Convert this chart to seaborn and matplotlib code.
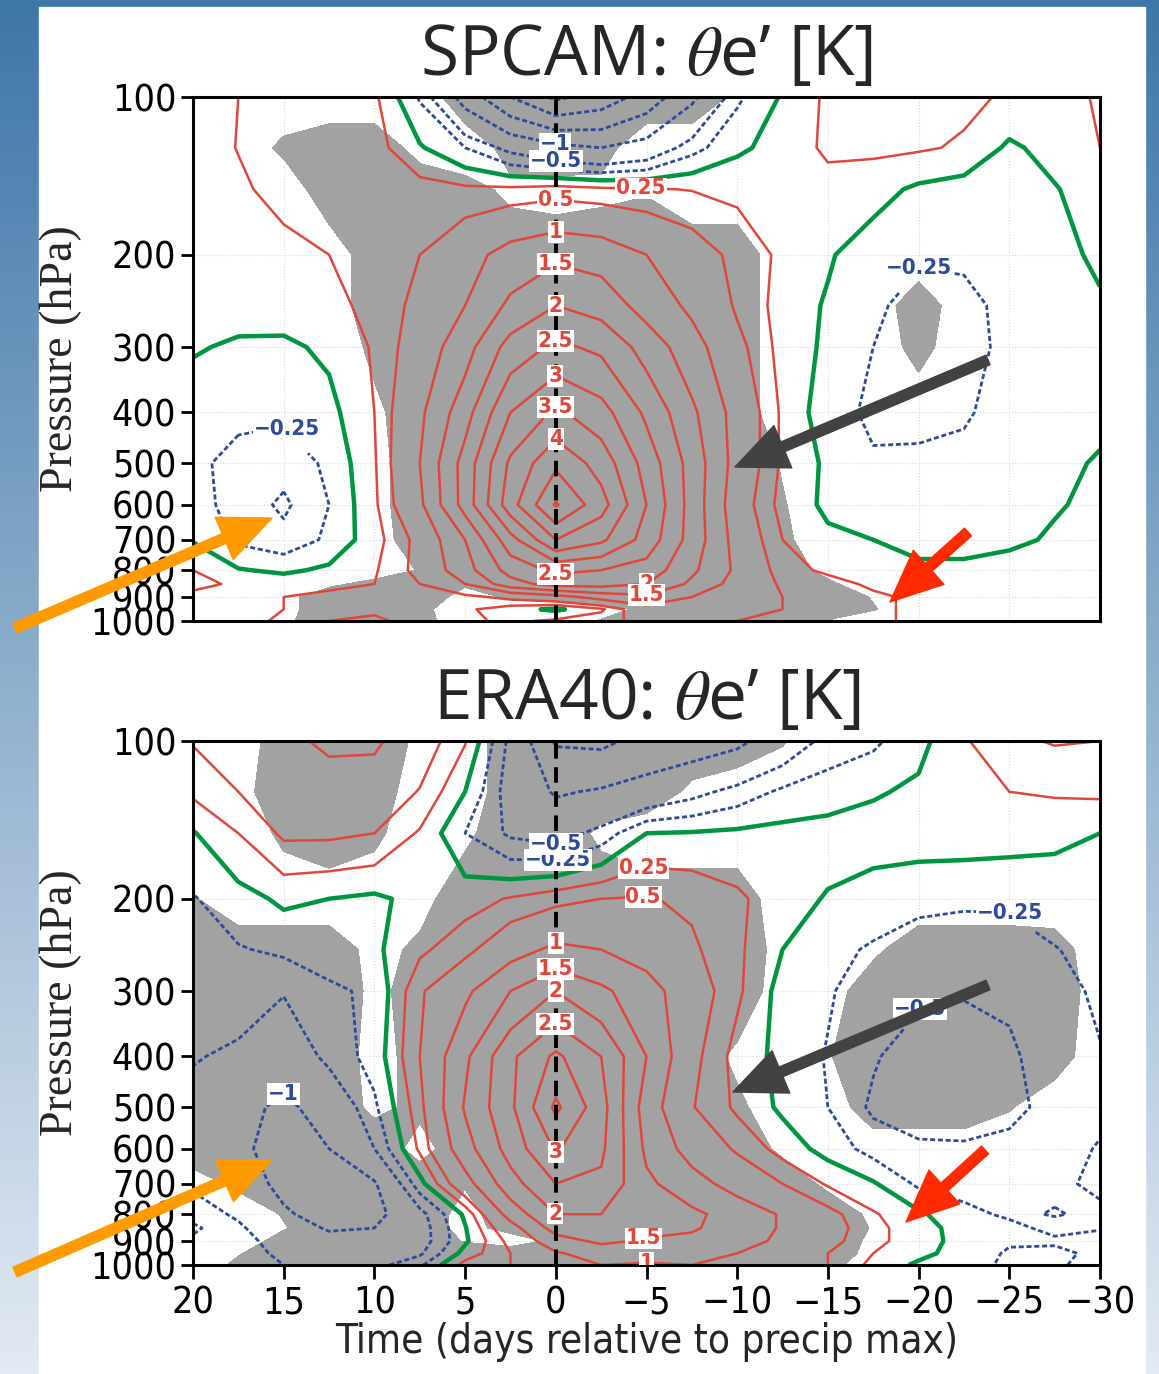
import numpy as np
import pandas as pd
import matplotlib
matplotlib.use("Agg")
import matplotlib.pyplot as plt
import seaborn as sns
from matplotlib.patches import Rectangle
from matplotlib.ticker import NullLocator
from matplotlib.font_manager import FontProperties

# ---------------- data ----------------
time_days = [20, 17.5, 15, 12.5, 10, 7.5, 5, 2.5, 0, -2.5, -5, -7.5, -10,
             -12.5, -15, -17.5, -20, -22.5, -25, -27.5, -30]
pressure_hpa = [100, 125, 150, 200, 250, 300, 400, 500, 600, 700, 800, 850, 900, 950, 1000]

# theta_e' anomaly [K], one row per pressure level, columns follow time_days
spcam_theta_e = [
    [0.15, 0.25, 0.35, 0.40, 0.30, -0.28, -1.20, -2.00, -2.60, -2.30, -1.80, -1.10, -0.30, 0.03, 0.30, 0.35, 0.35, 0.30, 0.22, 0.15, 0.28],
    [0.12, 0.26, 0.40, 0.42, 0.35, 0.03, -0.25, -0.60, -0.85, -1.00, -0.80, -0.35, -0.05, 0.10, 0.30, 0.30, 0.28, 0.22, -0.05, 0.10, 0.25],
    [0.10, 0.20, 0.35, 0.45, 0.45, 0.35, 0.30, 0.30, 0.35, 0.30, 0.27, 0.24, 0.20, 0.12, 0.15, 0.10, -0.05, -0.12, -0.10, -0.02, 0.15],
    [0.05, 0.10, 0.15, 0.25, 0.35, 0.50, 0.80, 1.20, 1.40, 1.30, 1.00, 0.70, 0.40, 0.20, 0.03, -0.15, -0.22, -0.22, -0.12, -0.05, 0.03],
    [0.05, 0.08, 0.12, 0.20, 0.30, 0.60, 1.00, 1.60, 2.00, 1.80, 1.30, 0.90, 0.45, 0.15, -0.03, -0.20, -0.35, -0.30, -0.20, -0.10, -0.02],
    [0.02, -0.03, -0.05, 0.05, 0.28, 0.70, 1.30, 2.20, 2.60, 2.40, 1.80, 1.20, 0.60, 0.15, -0.05, -0.25, -0.40, -0.32, -0.20, -0.10, -0.05],
    [-0.12, -0.20, -0.20, -0.08, 0.25, 0.90, 1.80, 3.00, 3.60, 3.20, 2.40, 1.60, 0.80, 0.20, -0.15, -0.30, -0.32, -0.28, -0.15, -0.08, -0.05],
    [-0.20, -0.32, -0.40, -0.20, 0.22, 1.00, 2.20, 3.60, 4.40, 3.80, 2.80, 1.80, 0.80, 0.20, -0.05, -0.22, -0.20, -0.18, -0.10, -0.05, 0.02],
    [-0.15, -0.35, -0.55, -0.25, 0.20, 0.90, 2.20, 3.80, 5.05, 4.20, 3.00, 1.80, 0.70, 0.15, -0.05, -0.10, -0.12, -0.12, -0.08, -0.02, 0.05],
    [-0.02, -0.30, -0.42, -0.20, 0.15, 0.60, 1.50, 2.80, 4.00, 3.60, 2.80, 1.80, 0.80, 0.25, 0.05, 0.00, -0.08, -0.08, -0.05, 0.03, 0.10],
    [0.25, 0.02, -0.05, 0.05, 0.22, 0.60, 1.30, 2.20, 2.60, 2.50, 2.30, 1.60, 0.90, 0.35, 0.20, 0.15, 0.05, 0.05, 0.10, 0.15, 0.20],
    [0.30, 0.22, 0.15, 0.18, 0.25, 0.50, 1.00, 1.80, 2.20, 2.20, 2.00, 1.40, 0.80, 0.45, 0.35, 0.20, 0.15, 0.12, 0.15, 0.18, 0.22],
    [0.20, 0.22, 0.25, 0.32, 0.40, 0.40, 0.40, 0.60, 0.80, 1.20, 1.40, 1.00, 0.70, 0.50, 0.40, 0.30, 0.20, 0.15, 0.20, 0.25, 0.20],
    [0.15, 0.20, 0.25, 0.40, 0.45, 0.40, 0.30, 0.10, -0.05, 0.20, 0.80, 0.80, 0.60, 0.50, 0.40, 0.30, 0.20, 0.15, 0.20, 0.20, 0.15],
    [0.10, 0.15, 0.30, 0.50, 0.55, 0.40, 0.30, 0.20, 0.30, 0.40, 0.60, 0.60, 0.50, 0.45, 0.40, 0.30, 0.20, 0.15, 0.15, 0.20, 0.15],
]
# significance (grey shading), 0 = not shaded ... 9 = shaded
spcam_signif = [
    "000000999999300000000",
    "006992079700000000000",
    "000999732340000000000",
    "000099999999900000000",
    "000099999999900090000",
    "000069999999900070000",
    "000039999999900000000",
    "000029999999940000000",
    "000029999999950000000",
    "000019999999960000000",
    "000005999999992000000",
    "000377599999996000000",
    "002997357999999400000",
    "002996100269999500000",
    "003996200599994000000",
]

era40_theta_e = [
    [0.52, 0.70, 0.90, 1.08, 1.08, 0.70, 0.27, -0.58, -1.55, -1.60, -1.35, -1.25, -1.10, -0.75, -0.40, -0.30, -0.08, 0.22, 0.45, 0.52, 0.50],
    [0.30, 0.50, 0.72, 0.80, 0.75, 0.48, 0.00, -0.65, -1.05, -0.95, -0.80, -0.60, -0.40, -0.20, -0.12, -0.03, 0.05, 0.15, 0.25, 0.28, 0.30],
    [-0.02, 0.25, 0.55, 0.55, 0.50, 0.22, -0.25, -0.55, -0.65, -0.40, 0.00, 0.02, 0.05, 0.08, 0.10, 0.12, 0.12, 0.12, 0.10, 0.06, 0.00],
    [-0.27, -0.10, 0.05, 0.00, -0.05, 0.08, 0.15, 0.27, 0.40, 0.50, 0.52, 0.45, 0.30, 0.10, -0.02, -0.12, -0.18, -0.20, -0.20, -0.15, -0.12],
    [-0.38, -0.27, -0.20, -0.12, -0.05, 0.20, 0.40, 0.80, 1.10, 1.00, 0.80, 0.55, 0.30, 0.00, -0.18, -0.28, -0.38, -0.42, -0.40, -0.26, -0.18],
    [-0.42, -0.38, -0.48, -0.30, -0.20, 0.45, 0.90, 1.50, 2.00, 1.60, 1.20, 0.70, 0.30, -0.10, -0.22, -0.40, -0.45, -0.47, -0.45, -0.35, -0.20],
    [-0.48, -0.55, -0.75, -0.42, -0.15, 0.50, 1.40, 2.40, 3.10, 2.50, 1.50, 0.60, 0.15, -0.08, -0.27, -0.47, -0.65, -0.70, -0.55, -0.35, -0.27],
    [-0.60, -0.85, -1.10, -0.80, -0.30, 0.40, 1.55, 2.40, 3.60, 2.70, 1.25, 0.52, 0.20, -0.05, -0.25, -0.55, -0.65, -0.70, -0.60, -0.38, -0.28],
    [-0.65, -0.95, -1.10, -1.00, -0.50, 0.30, 1.30, 2.20, 3.05, 2.60, 1.40, 0.80, 0.45, 0.15, -0.10, -0.35, -0.45, -0.45, -0.40, -0.30, -0.24],
    [-0.55, -0.80, -1.10, -1.15, -1.05, -0.10, 0.80, 1.80, 2.50, 2.40, 1.60, 1.20, 0.80, 0.50, 0.22, 0.03, -0.30, -0.32, -0.30, -0.28, -0.22],
    [-0.35, -0.55, -0.95, -1.15, -1.15, -0.60, 0.05, 1.20, 2.00, 2.00, 1.80, 1.60, 1.30, 0.95, 0.60, 0.28, 0.05, -0.20, -0.28, -0.24, -0.28],
    [-0.20, -0.45, -0.75, -1.05, -1.00, -0.65, -0.02, 0.80, 1.70, 1.90, 1.65, 1.55, 1.30, 0.95, 0.65, 0.32, 0.12, -0.12, -0.20, -0.30, -0.26],
    [-0.30, -0.42, -0.60, -0.85, -0.80, -0.65, -0.05, 0.60, 1.30, 1.60, 1.45, 1.40, 1.20, 0.90, 0.60, 0.32, 0.12, -0.10, -0.22, -0.22, -0.20],
    [-0.40, -0.40, -0.55, -0.65, -0.70, -0.55, 0.10, 0.50, 0.95, 1.20, 1.20, 1.20, 1.00, 0.75, 0.50, 0.25, 0.08, -0.12, -0.28, -0.30, -0.20],
    [-0.45, -0.42, -0.50, -0.60, -0.60, -0.30, 0.35, 0.50, 0.75, 1.00, 0.95, 1.00, 0.80, 0.60, 0.50, 0.18, -0.05, -0.15, -0.30, -0.27, -0.20],
]
era40_signif = [
    "009993099999950000000",
    "029990099993000000000",
    "006960399300000000000",
    "500002999999900000000",
    "999926999999920399980",
    "999937999999911999991",
    "999927999999304999980",
    "999936999999600999500",
    "999992999999930000000",
    "169999599999993000000",
    "005999299999999300000",
    "004999279999999400000",
    "017999416999999300000",
    "049999999999999200000",
    "069999999999997000000",
]

positive_levels = [0.25, 0.5, 1, 1.5, 2, 2.5, 3, 3.5, 4, 4.5, 5]
negative_levels = [-3, -2.5, -2, -1.5, -1, -0.5, -0.25]
x_ticks = [20, 15, 10, 5, 0, -5, -10, -15, -20, -25, -30]
y_ticks = [100, 200, 300, 400, 500, 600, 700, 800, 900, 1000]

# label anchor points (time, pressure) for the contour labels
spcam_pos_label_at = [(0, 159), (0, 181), (0, 207), (0, 247), (0, 293), (0, 342), (0, 387),
                      (0, 436), (-4.7, 146), (0, 809), (-5, 850), (-5, 890)]
spcam_neg_label_at = [(0, 121), (0, 132), (15, 436), (-19.5, 203)]
era40_pos_label_at = [(-4.7, 170), (-4.8, 193), (0, 234), (0, 265), (0, 299), (0, 348),
                      (0, 623), (0, 795), (-4.8, 872), (-5, 969)]
era40_neg_label_at = [(0, 163), (0, 172), (15, 469), (-20, 316), (-25, 214)]

# ---------------- style ----------------
sns.set_theme(style="white")
plt.rcParams['font.family'] = ['Liberation Sans Narrow', 'DejaVu Sans']
plt.rcParams['font.stretch'] = 'condensed'
plt.rcParams['mathtext.fontset'] = 'stix'
plt.rcParams['axes.unicode_minus'] = True

RED = '#e0473b'
GREEN = '#00963f'
BLUE = '#2d4b9b'
GREY = '#a2a2a2'

W, H = 1159, 1374
fig = plt.figure(figsize=(W / 100, H / 100), dpi=100)

# background: blue gradient with white sheet
bg = fig.add_axes([0, 0, 1, 1])
bg.set_zorder(-5)
top_c = np.array([62, 118, 168]) / 255
bot_c = np.array([226, 234, 243]) / 255
frac = np.linspace(0, 1, 256)[:, None]
grad = (top_c[None, :] * (1 - frac) + bot_c[None, :] * frac)[:, None, :]
bg.imshow(grad, aspect='auto', extent=[0, W, H, 0])
bg.add_patch(Rectangle((39, 7), 1106, H, color='white', zorder=2))
bg.set_xlim(0, W)
bg.set_ylim(H, 0)
bg.axis('off')

serif_fp = FontProperties(family=['Liberation Serif', 'DejaVu Serif'], size=33)
title_fp = FontProperties(family=['Open Sans', 'DejaVu Sans'], size=50, stretch='normal')


def fmt_level(v):
    s = f"{v:g}"
    return s.replace('-', '\u2212')


def fig_frac(px, py):
    return (px / W, 1 - py / H)


def draw_panel(ax, theta_rows, signif_rows, title, pos_at, neg_at, show_x):
    df = pd.DataFrame(theta_rows, index=pressure_hpa, columns=time_days)
    T, P = np.meshgrid(df.columns.values.astype(float), df.index.values.astype(float))
    Z = df.values
    S = np.array([[int(c) for c in row] for row in signif_rows], dtype=float)

    ax.set_yscale('log')
    ax.set_xlim(20, -30)
    ax.set_ylim(1000, 100)

    ax.contourf(T, P, S, levels=[4.5, 10], colors=[GREY], zorder=1)
    cp = ax.contour(T, P, Z, levels=positive_levels, colors=RED, linewidths=1.8,
                    linestyles='solid', zorder=2)
    ax.contour(T, P, Z, levels=[0], colors=GREEN, linewidths=3.2, linestyles='solid', zorder=2)
    cn = ax.contour(T, P, Z, levels=negative_levels, colors=BLUE, linewidths=2.0,
                    linestyles=[(0, (1.8, 1.0))], zorder=2)
    ax.axvline(0, color='black', lw=2.8, ls=(0, (4, 2.2)), zorder=2.5)

    for cs, pts, col in ((cp, pos_at, RED), (cn, neg_at, BLUE)):
        txts = ax.clabel(cs, manual=pts, inline=True, inline_spacing=1, fmt=fmt_level,
                         fontsize=16, colors=col)
        for t in txts:
            t.set_rotation(0)
            t.set_fontweight('bold')
            t.set_zorder(4)
            t.set_bbox(dict(facecolor='white', edgecolor='none', pad=0.6))

    ax.grid(True, ls=':', color='#d8d8d8', lw=0.8)
    ax.set_axisbelow(True)

    ax.set_yticks(y_ticks)
    ax.set_yticklabels([str(v) for v in y_ticks])
    ax.yaxis.set_minor_locator(NullLocator())
    ax.set_xticks(x_ticks)
    ax.set_xticklabels([fmt_level(v) for v in x_ticks])
    ax.xaxis.set_minor_locator(NullLocator())
    ax.tick_params(axis='y', direction='out', length=9, width=2, labelsize=27, pad=3,
                   left=True, colors='black')
    if show_x:
        ax.tick_params(axis='x', direction='out', length=10, width=2, labelsize=27, pad=5,
                       bottom=True, colors='black')
        ax.set_xlabel('Time (days relative to precip max)', fontsize=29, labelpad=0)
    else:
        ax.tick_params(axis='x', bottom=False, labelbottom=False)
    for sp in ax.spines.values():
        sp.set_color('black')
        sp.set_linewidth(2.2)
        sp.set_visible(True)
    ax.set_ylabel('Pressure (hPa)', fontproperties=serif_fp, labelpad=6)
    ax.set_title(title, fontproperties=title_fp, pad=16)


ax_top = fig.add_axes([193 / W, 1 - 621 / H, 907 / W, 524 / H])
ax_bot = fig.add_axes([193 / W, 1 - 1265 / H, 907 / W, 524 / H])

draw_panel(ax_top, spcam_theta_e, spcam_signif, 'SPCAM: $\\theta$e\u2019 [K]',
           spcam_pos_label_at, spcam_neg_label_at, show_x=False)
draw_panel(ax_bot, era40_theta_e, era40_signif, 'ERA40: $\\theta$e\u2019 [K]',
           era40_pos_label_at, era40_neg_label_at, show_x=True)

# highlight arrows (figure pixel positions)
arrows = [
    ((15, 628), (272, 518), '#ff9a00'),
    ((988, 360), (735, 467), '#424242'),
    ((968, 532), (890, 602), '#ff2a00'),
    ((15, 1272), (272, 1160), '#ff9a00'),
    ((988, 985), (733, 1092), '#424242'),
    ((985, 1150), (906, 1222), '#ff2a00'),
]
for tail, head, col in arrows:
    ax_bot.annotate('', xy=fig_frac(*head), xytext=fig_frac(*tail),
                    xycoords='figure fraction', textcoords='figure fraction',
                    annotation_clip=False, zorder=10,
                    arrowprops=dict(arrowstyle='simple,head_length=1.7,head_width=1.5,tail_width=0.34',
                                    color=col, mutation_scale=22, shrinkA=0, shrinkB=0))

fig.savefig('out.png', dpi=100)
